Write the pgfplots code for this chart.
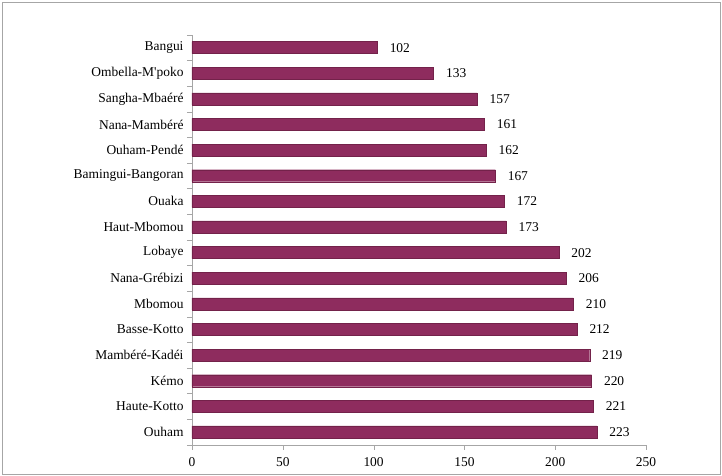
\documentclass[border=0pt]{standalone}
\usepackage{pgfplots}
\pgfplotsset{compat=1.18}
\usepackage{fontspec}
\setmainfont{Liberation Serif}[Ligatures=TeXOff]
\definecolor{barmid}{RGB}{142,44,94}
\definecolor{barbot}{RGB}{115,34,74}
\begin{document}
\begin{tikzpicture}[x=1bp,y=1bp]
\path[use as bounding box] (-192,-44) rectangle (530,432);
\draw[gray!70] (-190,-42) rectangle (528,430);
\begin{axis}[
  at={(0,0)}, anchor=origin,
  scale only axis,
  width=454bp, height=410bp,
  xbar, bar width=12bp,
  xmin=0, xmax=250,
  ymin=-0.5, ymax=15.5,
  xtick={0,50,...,250},
  ytick={0,...,15},
  yticklabels={Ouham,Haute-Kotto,Kémo,Mambéré-Kadéi,Basse-Kotto,Mbomou,Nana-Grébizi,Lobaye,Haut-Mbomou,Ouaka,Bamingui-Bangoran,Ouham-Pendé,Nana-Mambéré,Sangha-Mbaéré,Ombella-M'poko,Bangui},
  minor ytick={-0.5,0.5,...,15.5},
  major y tick style={draw=none},
  minor y tick style={gray!70},
  x tick style={gray!70},
  tick align=outside,
  major tick length=5bp, minor tick length=5bp,
  axis x line*=bottom, axis y line*=left,
  axis line style={gray!70},
  tick label style={font=\fontsize{13.5}{15}\selectfont},
  /pgf/number format/assume math mode=true,
  xticklabel style={yshift=-4bp},
  nodes near coords,
  every node near coord/.append style={font=\fontsize{13.5}{15}\selectfont, anchor=west, xshift=9bp},
  clip=false,
]
\addplot[draw=barbot, fill=barmid] coordinates {
  (223,0) (221,1) (220,2) (219,3) (212,4) (210,5) (206,6) (202,7)
  (173,8) (172,9) (167,10) (162,11) (161,12) (157,13) (133,14) (102,15)
};
\end{axis}
\end{tikzpicture}
\end{document}
